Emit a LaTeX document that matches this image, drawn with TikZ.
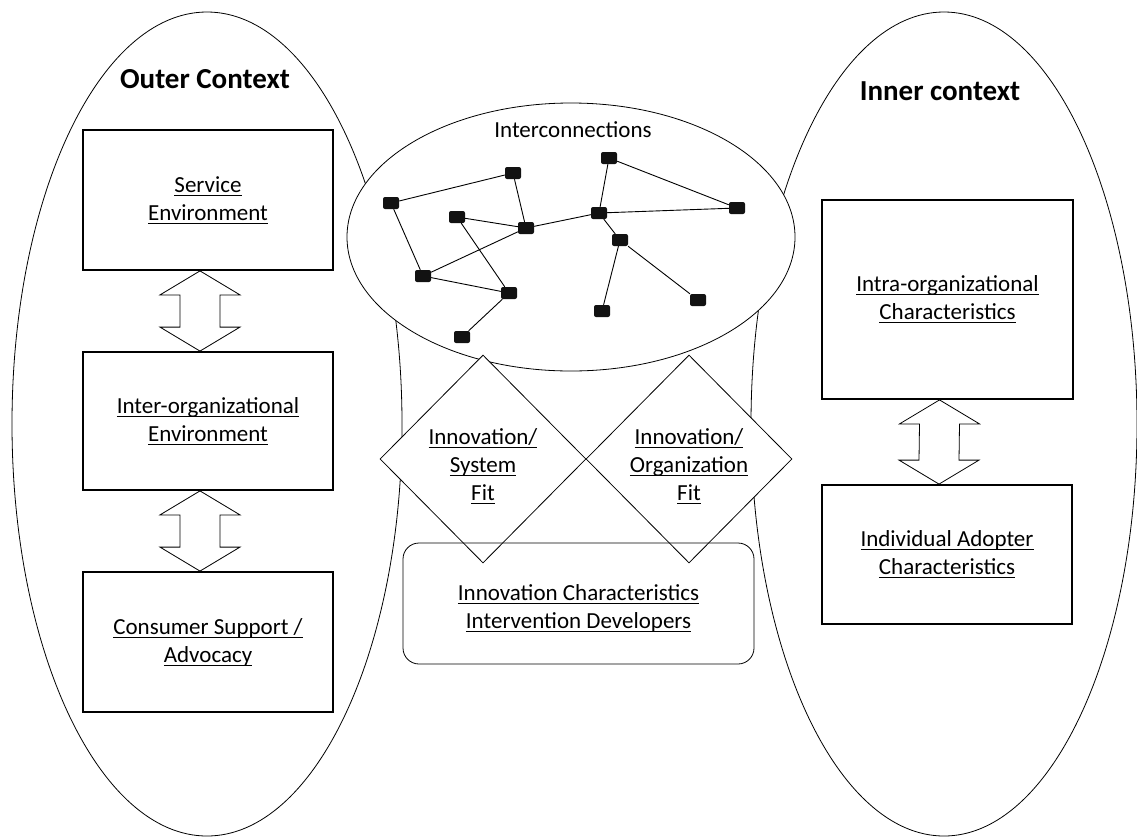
\documentclass[tikz,border=0pt]{standalone}
\usepackage{fontspec}
\setmainfont{Carlito}
\usetikzlibrary{shapes.geometric,calc}

\newsavebox{\undlbox}
\newcommand{\undl}[1]{\sbox{\undlbox}{#1}\rlap{\rule[-3.6pt]{\wd\undlbox}{1.1pt}}\usebox{\undlbox}}

% two-way block arrow between an upper and a lower box
\newcommand{\updown}[2]{%
  \draw[twoway] ([xshift=-8pt]#1.south) -- ++(40,24) -- ++(-20,0)
    -- ($([xshift=-8pt]#2.north)+(20,-24)$) -- ++(20,0) -- ([xshift=-8pt]#2.north)
    -- ++(-40,-24) -- ++(20,0) -- ($([xshift=-8pt]#1.south)+(-20,24)$) -- ++(-20,0) -- cycle;}

\tikzset{
  context/.style={draw, line width=0.8pt},
  factor/.style={draw, line width=1.8pt, minimum width=250pt, align=center, inner sep=0pt},
  fitbox/.style={diamond, draw, fill=white, line width=0.8pt, minimum width=206pt, minimum height=208pt, inner sep=0pt},
  devbox/.style={draw, line width=0.8pt, rounded corners=16pt, minimum width=351pt, minimum height=121pt},
  hub/.style={fill=black!93, rounded corners=2pt, minimum width=16pt, minimum height=12pt, inner sep=0pt},
  link/.style={line width=0.9pt},
  twoway/.style={line width=0.8pt, fill=white, line join=miter},
  title/.style={font=\fontsize{29}{35}\selectfont\bfseries},
}

\begin{document}
\begin{tikzpicture}[x=1pt, y=-1pt, font=\fontsize{23}{28}\selectfont]
  \useasboundingbox (0,0) rectangle (1137,836);

  % contexts
  \draw[context] (207,424) ellipse [x radius=195pt, y radius=412pt];
  \draw[context] (944,424) ellipse [x radius=193pt, y radius=412pt];
  \draw[context, fill=white] (571,237) ellipse [x radius=224pt, y radius=134pt];
  \node (links) at (573,130) {Interconnections};

  % network
  \foreach \name/\x/\y in {h1/513/173, h2/391/203, h3/457/217, h4/526/228, h5/423/276,
      h6/509/293, h7/462/337, h8/609/158, h9/599/213, h10/737/208, h11/620/240,
      h12/602/311, h13/698/300}
    \node[hub] (\name) at (\x,\y) {};
  \foreach \u/\v in {h2/h1, h1/h4, h3/h4, h3/h6, h4/h5, h2/h5, h5/h6, h6/h7,
      h4/h9, h9/h8, h8/h10, h9/h10, h9/h11, h11/h12, h11/h13}
    \draw[link] (\u) -- (\v);

  % fit diamonds and developers
  \node[fitbox] (sysfit) at (483,459) {};
  \node[fitbox] (orgfit) at (689,459) {};
  \node[align=center] (sysfittxt) at ([yshift=-7pt]sysfit.center) {\undl{Innovation/}\\\undl{System}\\\undl{Fit}};
  \node[align=center] (orgfittxt) at ([yshift=-7pt]orgfit.center) {\undl{Innovation/}\\\undl{Organization}\\\undl{Fit}};
  \node[devbox] (dev) at (578.5,603.5) {};
  \node[align=center] (devtxt) at ([yshift=-5pt]dev.center) {\undl{Innovation Characteristics}\\\undl{Intervention Developers}};

  % outer context
  \node[title] (outer) at (205,79) {Outer Context};
  \node[factor, minimum height=140pt] (svc) at (208,200) {\undl{Service}\\\undl{Environment}};
  \node[factor, minimum height=138pt] (inter) at (208,421) {\undl{Inter-organizational}\\\undl{Environment}};
  \node[factor, minimum height=140pt] (cons) at (208,642) {\undl{Consumer Support /}\\\undl{Advocacy}};
  \updown{svc}{inter}
  \updown{inter}{cons}

  % inner context
  \node[title] (inner) at (940,91) {Inner context};
  \node[factor, minimum width=251pt, minimum height=199pt] (intra) at (947.5,299.5) {\undl{Intra-organizational}\\\undl{Characteristics}};
  \node[factor, minimum height=139pt] (indiv) at (947,554.5) {\undl{Individual Adopter}\\\undl{Characteristics}};
  \updown{intra}{indiv}
\end{tikzpicture}
\end{document}
